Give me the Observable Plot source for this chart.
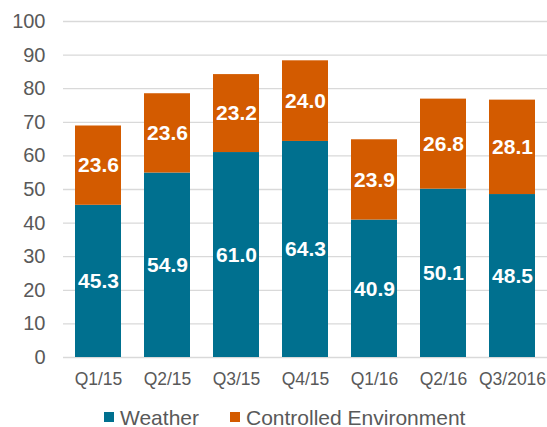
<!DOCTYPE html>
<html>
<head>
<meta charset="utf-8">
<script src="https://cdn.jsdelivr.net/npm/d3@7"></script>
<script src="https://cdn.jsdelivr.net/npm/@observablehq/plot@0.6"></script>
<style>
  html, body { margin: 0; padding: 0; background: #fff; }
  body { width: 547px; height: 427px; overflow: hidden; font-family: "Liberation Sans", Arial, sans-serif; }
  #legend { height: 32px; box-sizing: border-box; padding-top: 12px; padding-left: 104px; display: flex; align-items: center; font-size: 21px; line-height: 21px; color: #595959; }
  .sw { display: inline-block; width: 10px; height: 10px; margin-right: 6px; }
  .item { display: flex; align-items: center; margin-right: 31px; }
</style>
</head>
<body>
<div id="chart"></div>
<div id="legend"></div>
<script>
const quarters = ["Q1/15", "Q2/15", "Q3/15", "Q4/15", "Q1/16", "Q2/16", "Q3/2016"];
const weather = [45.3, 54.9, 61.0, 64.3, 40.9, 50.1, 48.5];
const controlled = [23.6, 23.6, 23.2, 24.0, 23.9, 26.8, 28.1];
const seriesNames = ["Weather", "Controlled Environment"];
const seriesColors = ["#00708F", "#D35B00"];
const yTicks = [0, 10, 20, 30, 40, 50, 60, 70, 80, 90, 100];

const data = [
  ...quarters.map((q, i) => ({quarter: q, series: seriesNames[0], value: weather[i]})),
  ...quarters.map((q, i) => ({quarter: q, series: seriesNames[1], value: controlled[i]}))
];

const chart = Plot.plot({
  width: 547,
  height: 395,
  marginLeft: 63,
  marginRight: 0,
  marginTop: 21,
  marginBottom: 38,
  style: {fontFamily: "'Liberation Sans', Arial, sans-serif", color: "#595959", background: "#fff"},
  x: {domain: quarters, paddingInner: 0.33, paddingOuter: 0.165, label: null},
  y: {domain: [0, 100], label: null},
  color: {domain: seriesNames, range: seriesColors},
  marks: [
    Plot.gridY(yTicks, {stroke: "#d9d9d9", strokeOpacity: 1, strokeWidth: 1.3}),
    Plot.axisY(yTicks, {tickSize: 0, tickPadding: 18, fontSize: 20, fill: "#595959", label: null}),
    Plot.axisX({tickSize: 0, tickPadding: 15, fontSize: 17.5, fill: "#595959", label: null}),
    Plot.barY(data, Plot.stackY({x: "quarter", y: "value", z: "series", fill: "series", order: null})),
    Plot.text(data, Plot.stackY({x: "quarter", y: "value", z: "series", order: null, text: d => d.value.toFixed(1), fill: "white", fontSize: 21, fontWeight: "bold"}))
  ]
});
document.getElementById("chart").appendChild(chart);

const legend = document.getElementById("legend");
seriesNames.forEach((name, i) => {
  const item = document.createElement("span");
  item.className = "item";
  const sw = document.createElement("span");
  sw.className = "sw";
  sw.style.background = seriesColors[i];
  item.appendChild(sw);
  item.appendChild(document.createTextNode(name));
  legend.appendChild(item);
});
</script>
</body>
</html>
